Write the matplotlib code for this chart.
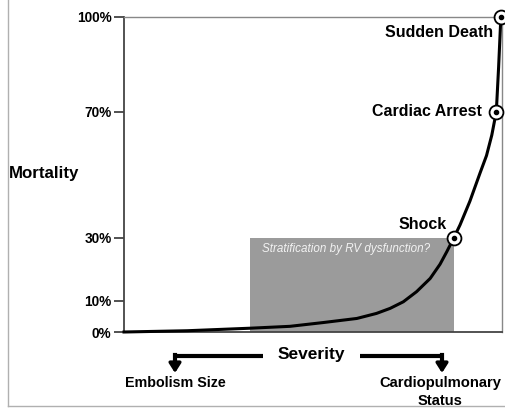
import matplotlib
matplotlib.use('Agg')
import matplotlib.pyplot as plt
from matplotlib.lines import Line2D

W, H = 505, 408

plt.rcParams['font.family'] = ['Liberation Sans', 'DejaVu Sans']

# curve (severity 0-100, mortality %)
severity = [0, 16.7, 33.3, 43.9, 52.7, 61.6, 66.8, 70.4, 73.9, 77.4, 81.0,
            83.6, 85.4, 87.3, 88.9, 91.5, 94.2, 95.9, 97.3, 98.5, 99.1, 99.7]
mortality = [0, 0.4, 1.2, 1.8, 3.0, 4.3, 5.9, 7.5, 9.6, 12.8, 17.0,
             21.5, 25.5, 30, 34, 41.5, 50.5, 56, 62.5, 70, 84, 100]

event_x = [87.3, 98.5, 99.7]
event_y = [30, 70, 100]
event_labels = ['Shock', 'Cardiac Arrest', 'Sudden Death']

yticks = [0, 10, 30, 70, 100]
ytick_labels = ['0%', '10%', '30%', '70%', '100%']

box_x = [33.3, 87.3]
box_y = [0, 30]


def fx(px):
    return px / W


def fy(py):
    return 1 - py / H


fig = plt.figure(figsize=(W / 100, H / 100), dpi=100)
ax = fig.add_axes([fx(124), fy(332), (502 - 124) / W, (332 - 17) / H])
ax.set_xlim(0, 100)
ax.set_ylim(0, 100)

ax.fill_between(box_x, box_y[0], box_y[1], color='#9b9b9b', lw=0, zorder=1)
ax.text(box_x[0] + 3.1, 26.2, 'Stratification by RV dysfunction?', style='italic',
        color='#f2f2f2', fontsize=8.4, va='center', ha='left', zorder=2)

ax.plot(severity, mortality, color='black', lw=2.2, zorder=3, clip_on=False,
        solid_joinstyle='round')
ax.plot(event_x, event_y, 'o', ms=10, mfc='white', mec='black', mew=1.3,
        zorder=4, clip_on=False)
ax.plot(event_x, event_y, 'o', ms=3, color='black', zorder=5, clip_on=False)

ax.text(79.0, 34, event_labels[0], fontsize=11.5, fontweight='bold', ha='center', va='center')
ax.text(94.8, 70, event_labels[1], fontsize=11.5, fontweight='bold', ha='right', va='center')
ax.text(97.6, 95, event_labels[2], fontsize=11.5, fontweight='bold', ha='right', va='center')

ax.set_xticks([])
ax.set_yticks(yticks)
ax.set_yticklabels(ytick_labels, fontsize=9.8, fontweight='bold')
ax.tick_params(axis='y', direction='out', length=7, width=1.2, color='#333333', pad=2)
for side in ['left', 'bottom']:
    ax.spines[side].set_color('#444444')
    ax.spines[side].set_linewidth(1.3)
for side in ['top', 'right']:
    ax.spines[side].set_color('#888888')
    ax.spines[side].set_linewidth(1)

fig.text(fx(9), fy(173), 'Mortality', fontsize=12.2, fontweight='bold', va='center', ha='left')
fig.text(fx(311), fy(355), 'Severity', fontsize=12.5, fontweight='bold', va='center', ha='center')
fig.text(fx(175), fy(383), 'Embolism Size', fontsize=10.3, fontweight='bold', va='center', ha='center')
fig.text(fx(440), fy(383), 'Cardiopulmonary', fontsize=10.6, fontweight='bold', va='center', ha='center')
fig.text(fx(440), fy(401), 'Status', fontsize=10.6, fontweight='bold', va='center', ha='center')

# arrows under the axis
for x0, x1 in [(263, 175), (360, 442)]:
    fig.add_artist(Line2D([fx(x0), fx(x1)], [fy(356), fy(356)], color='black', lw=3,
                          transform=fig.transFigure, solid_capstyle='butt'))
    fig.add_artist(Line2D([fx(x1), fx(x1)], [fy(354.6), fy(364)], color='black', lw=3,
                          transform=fig.transFigure))
    ax.annotate('', xy=(fx(x1), fy(373)), xytext=(fx(x1), fy(362)),
                xycoords='figure fraction', textcoords='figure fraction',
                arrowprops=dict(arrowstyle='-|>,head_length=0.55,head_width=0.35',
                                color='black', lw=2.5, shrinkA=0, shrinkB=0))

# outer frame lines
fig.add_artist(Line2D([fx(8), fx(8)], [fy(0), fy(406)], color='#b0b0b0', lw=1,
                      transform=fig.transFigure))
fig.add_artist(Line2D([fx(8), fx(505)], [fy(406), fy(406)], color='#b0b0b0', lw=1,
                      transform=fig.transFigure))

fig.savefig('out.png', dpi=100)
